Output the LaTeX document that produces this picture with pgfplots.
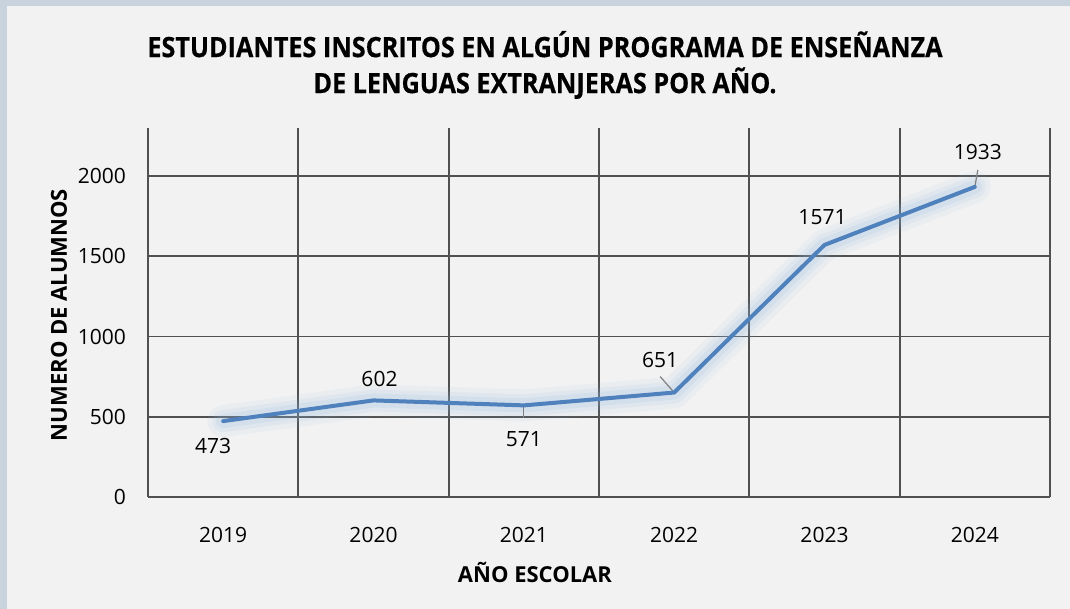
\documentclass[border=0pt]{standalone}
\usepackage{fontspec}
\setmainfont{Open Sans}
\newfontfamily\titlefont{Open Sans}[FakeStretch=0.9, FakeBold=0.4]
\usepackage{pgfplots}
\pgfplotsset{compat=1.18}
\definecolor{bgc}{RGB}{242,242,242}
\definecolor{edgec}{RGB}{200,211,222}
\definecolor{gridc}{RGB}{80,80,80}
\definecolor{linec}{RGB}{79,129,189}
\definecolor{glowc}{RGB}{150,185,225}
\definecolor{leadc}{RGB}{128,128,128}

\pgfplotstableread{
x y dx dy
0 473 -5 -12.5
1 602 3 10.5
2 571 0 -17
3 651 -7 16.5
4 1571 -1 14
5 1933 1.5 17.5
}\alumnos

\begin{document}
\begin{tikzpicture}
\useasboundingbox (0,0) rectangle (535pt,304.5pt);
\fill[edgec] (0,0) rectangle (535pt,304.5pt);
\fill[bgc] (3.5pt,0) rectangle (535pt,301.5pt);
\begin{axis}[
    at={(74pt,56pt)}, anchor=south west,
    scale only axis,
    width=451pt, height=184.5pt,
    xmin=-0.5, xmax=5.5, ymin=0, ymax=2300,
    xtick={0,1,2,3,4,5},
    xticklabels={2019,2020,2021,2022,2023,2024},
    minor xtick={-0.5,0.5,1.5,2.5,3.5,4.5,5.5},
    ytick={0,500,1000,1500,2000},
    xminorgrids=true, ymajorgrids=true,
    major tick length=0pt, minor tick length=0pt,
    grid style={draw=gridc, line width=0.9pt},
    minor grid style={draw=gridc, line width=0.9pt},
    axis x line*=bottom, axis y line*=left,
    axis line style={draw=gridc, line width=0.9pt},
    /pgf/number format/1000 sep={},
    /pgf/number format/assume math mode=true,
    tick label style={font=\fontsize{10.5}{12}\selectfont, text=black},
    yticklabel style={xshift=-7.5pt},
    xticklabel style={yshift=-11.5pt},
    xlabel={AÑO ESCOLAR},
    ylabel={NUMERO DE ALUMNOS},
    label style={font=\fontsize{11}{13}\selectfont\bfseries},
    xlabel style={at={(axis description cs:0.429,0)}, anchor=center, yshift=-37.5pt},
    ylabel style={at={(axis description cs:-0.0987,0.493)}, anchor=center},
    clip=false,
  ]
  \addplot[glowc, opacity=0.08, line width=16pt, line join=round, line cap=round] table[x=x, y=y] {\alumnos};
  \addplot[glowc, opacity=0.12, line width=11pt, line join=round, line cap=round] table[x=x, y=y] {\alumnos};
  \addplot[glowc, opacity=0.15, line width=7pt, line join=round, line cap=round] table[x=x, y=y] {\alumnos};
  \draw[leadc, line width=0.6pt] (axis cs:2,571) -- ++(0pt,-6.5pt);
  \draw[leadc, line width=0.6pt] (axis cs:3,651) -- ++(-7pt,8pt);
  \draw[leadc, line width=0.6pt] (axis cs:5,1933) -- ++(1.5pt,8.5pt);
  \addplot[linec, line width=2pt, line join=round, line cap=round,
    visualization depends on={\thisrow{dx} \as \dx},
    visualization depends on={\thisrow{dy} \as \dy},
    nodes near coords,
    nodes near coords style={anchor=center, xshift=\dx, yshift=\dy,
      font=\fontsize{10.5}{12}\selectfont, text=black,
      /pgf/number format/1000 sep={}},
  ] table[x=x, y=y] {\alumnos};
\end{axis}
\node[font=\titlefont\fontsize{14}{18}\selectfont\bfseries, align=center] at (272.5pt,272pt)
  {ESTUDIANTES INSCRITOS EN ALGÚN PROGRAMA DE ENSEÑANZA\\DE LENGUAS EXTRANJERAS POR AÑO.};
\end{tikzpicture}
\end{document}
